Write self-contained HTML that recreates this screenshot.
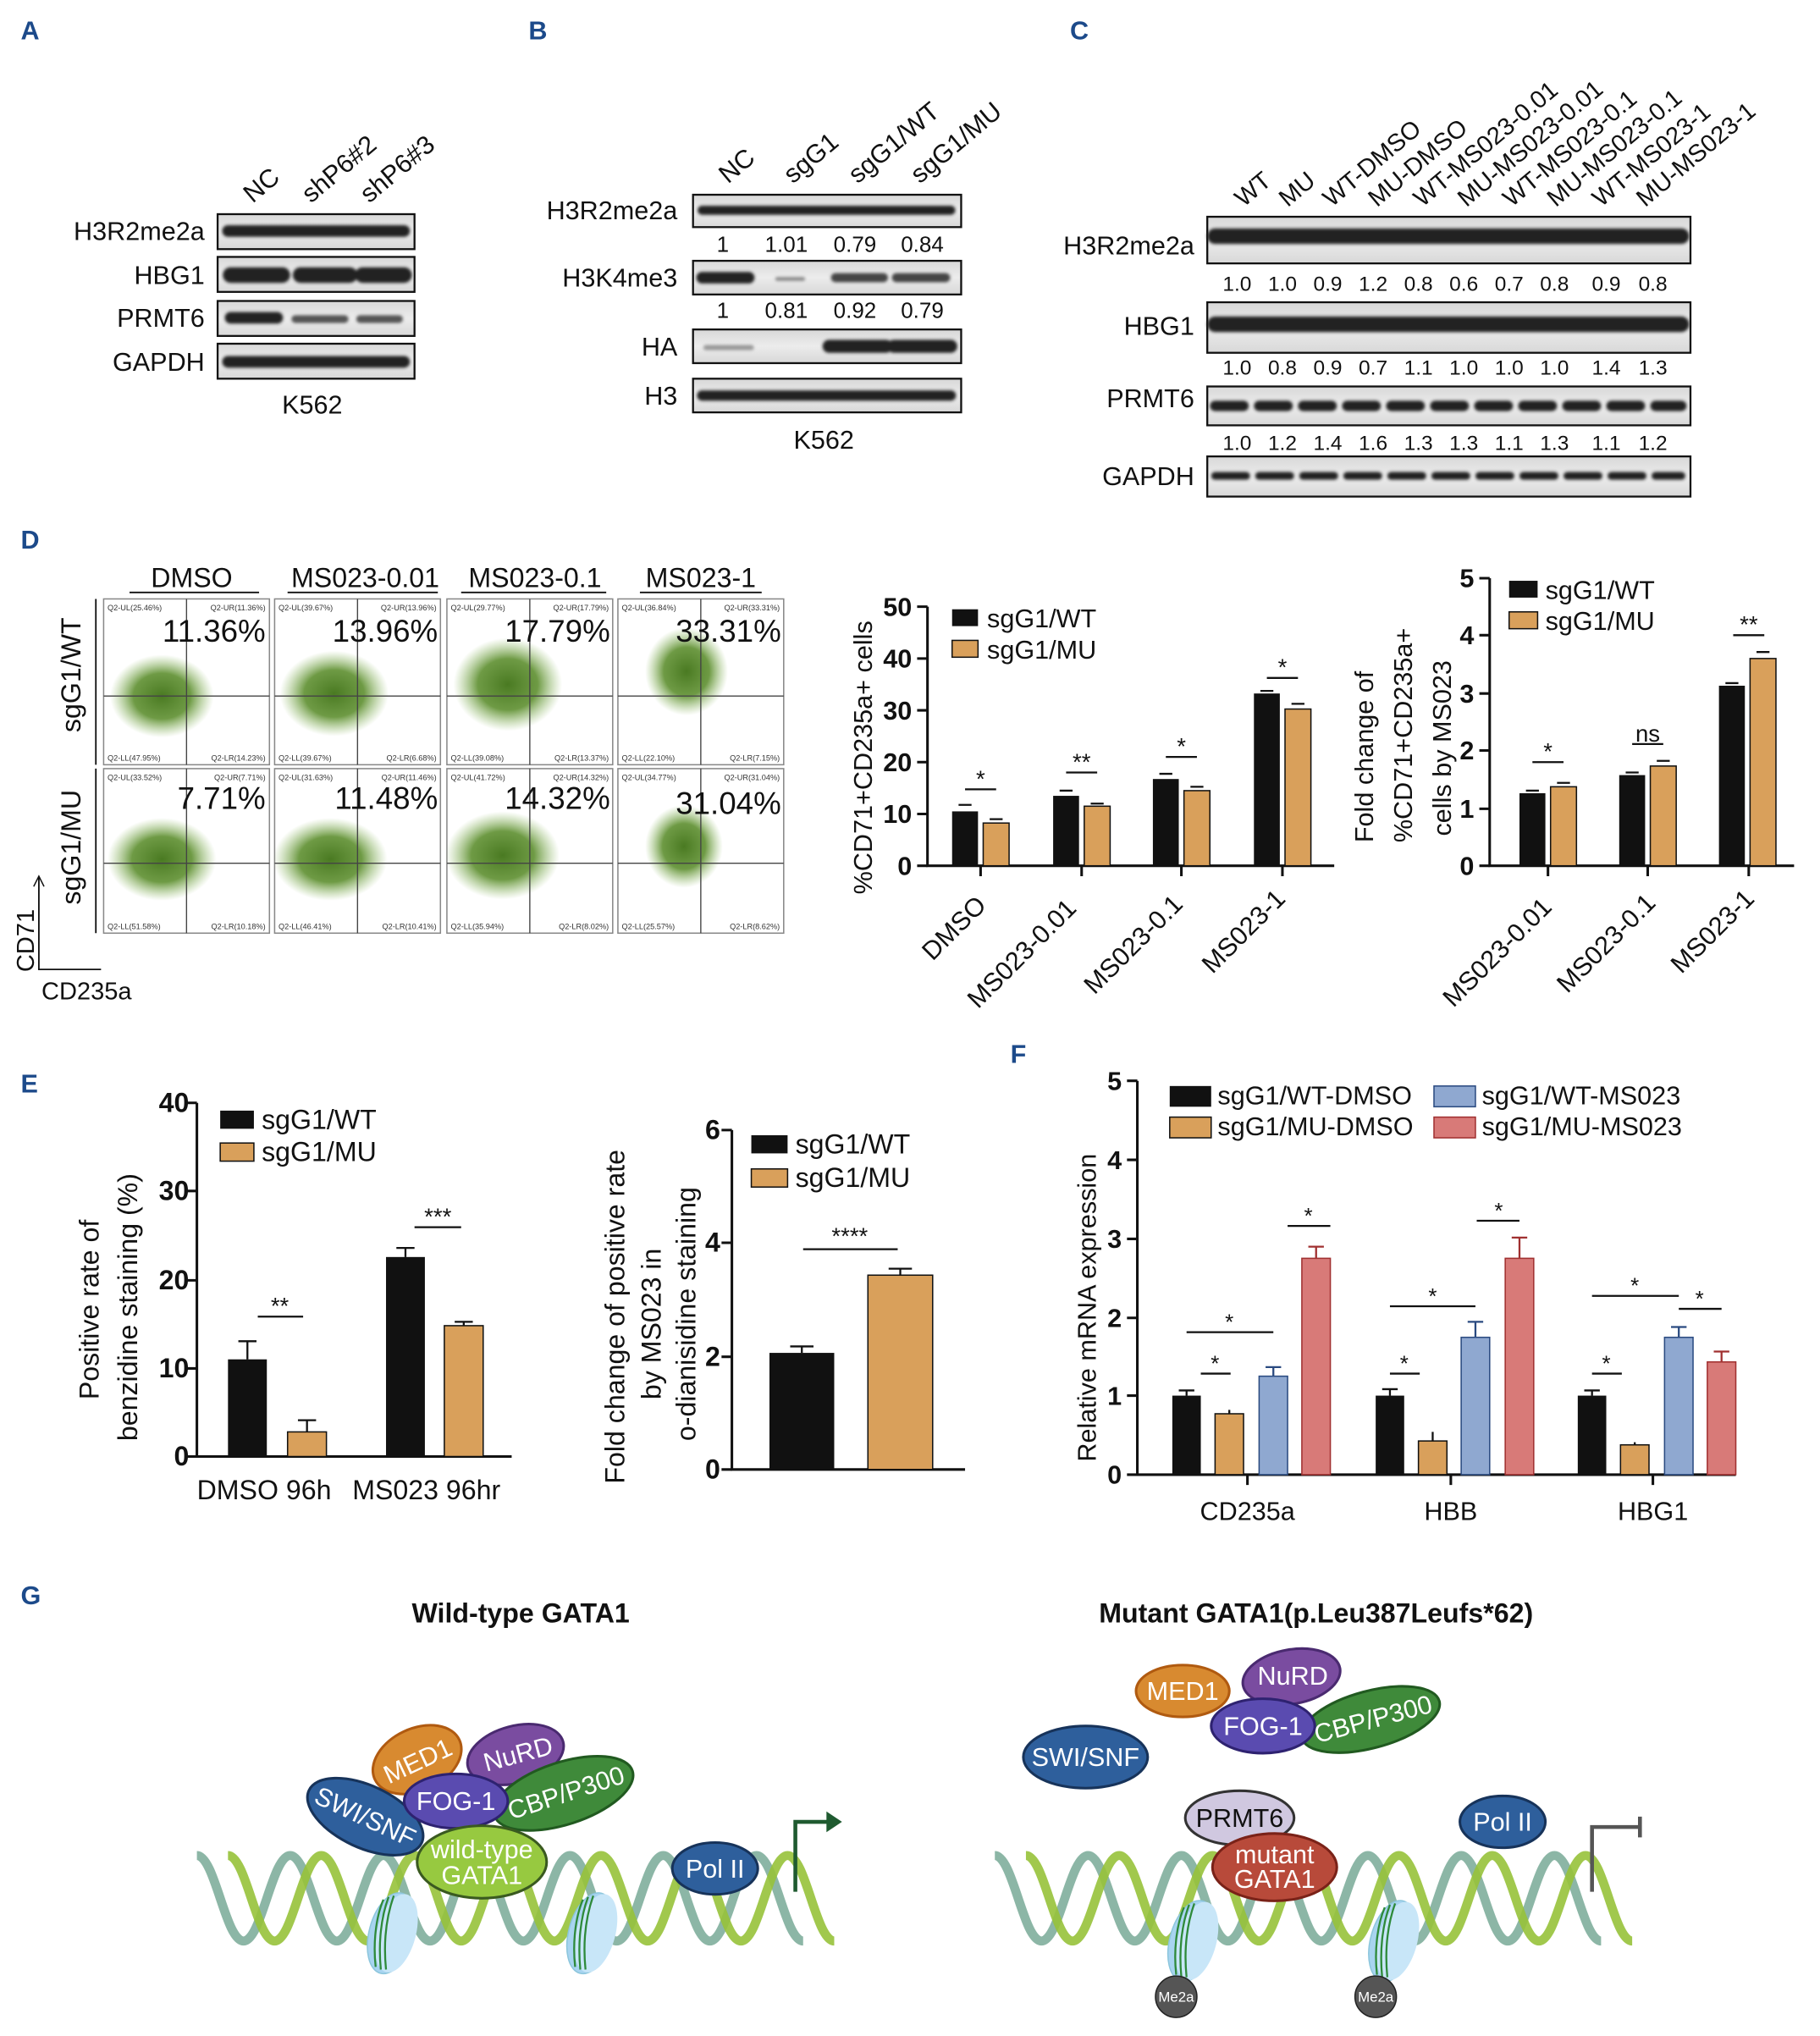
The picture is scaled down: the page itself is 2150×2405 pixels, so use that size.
<!DOCTYPE html>
<html><head><meta charset="utf-8"><style>html,body{margin:0;padding:0;background:#fff}svg{display:block}text{font-family:"Liberation Sans",sans-serif}</style></head><body>
<svg width="2150" height="2405" viewBox="0 0 1405 1571" xmlns="http://www.w3.org/2000/svg">
<defs>
<linearGradient id="blot" x1="0" y1="0" x2="0" y2="1"><stop offset="0" stop-color="#d8d8d8"/><stop offset="0.5" stop-color="#ececec"/><stop offset="1" stop-color="#d8d8d8"/></linearGradient>
<radialGradient id="cloud"><stop offset="0" stop-color="#4a7a22"/><stop offset="0.55" stop-color="#5e8f30" stop-opacity="0.9"/><stop offset="1" stop-color="#8cb860" stop-opacity="0"/></radialGradient>
<filter id="bl" x="-5%" y="-50%" width="110%" height="200%"><feGaussianBlur stdDeviation="1.3"/></filter>
</defs>
<g font-weight="bold" font-size="20">
<text x="16" y="30" fill="#1c4a8a">A</text><text x="408" y="30" fill="#1c4a8a">B</text><text x="826" y="30" fill="#1c4a8a">C</text>
<text x="16" y="423" fill="#1c4a8a">D</text><text x="16" y="843" fill="#1c4a8a">E</text><text x="780" y="820" fill="#1c4a8a">F</text><text x="16" y="1238" fill="#1c4a8a">G</text>
</g>
<!-- Panel A -->
<g font-size="20" fill="#111">
<g stroke="#111" stroke-width="1.5" fill="url(#blot)">
<rect x="168" y="165" width="152" height="27"/><rect x="168" y="198" width="152" height="27"/><rect x="168" y="232" width="152" height="27"/><rect x="168" y="265" width="152" height="27"/></g>
<g stroke="#222" stroke-linecap="round" filter="url(#bl)">
<path d="M176 178 H312" stroke-width="9"/><path d="M178 212 H218 M232 212 H270 M280 212 H312" stroke-width="12"/>
<path d="M178 245 H214" stroke-width="9"/><path d="M228 246 H266 M278 246 H308" stroke-width="6" stroke="#555"/><path d="M176 279 H312" stroke-width="9"/></g>
<g text-anchor="end"><text x="158" y="185">H3R2me2a</text><text x="158" y="219">HBG1</text><text x="158" y="252">PRMT6</text><text x="158" y="286">GAPDH</text></g>
<text x="241" y="319" text-anchor="middle">K562</text>
<text transform="translate(195,157) rotate(-40)">NC</text><text transform="translate(240,157) rotate(-40)">shP6#2</text><text transform="translate(285,157) rotate(-40)">shP6#3</text>
</g>
<!-- Panel B -->
<g font-size="20" fill="#111">
<g stroke="#111" stroke-width="1.5" fill="url(#blot)">
<rect x="535" y="150" width="207" height="25"/><rect x="535" y="201" width="207" height="26"/><rect x="535" y="254" width="207" height="26"/><rect x="535" y="292" width="207" height="26"/></g>
<g stroke="#222" stroke-linecap="round" filter="url(#bl)">
<path d="M542 162 H734" stroke-width="7"/><path d="M542 214 H578" stroke-width="9"/><path d="M600 215 H620" stroke-width="3" stroke="#888"/><path d="M645 214 H682 M692 214 H730" stroke-width="7" stroke="#444"/>
<path d="M545 268 H580" stroke-width="4" stroke="#999"/><path d="M640 267 H684 M690 267 H734" stroke-width="10"/><path d="M542 305 H734" stroke-width="8"/></g>
<g text-anchor="end"><text x="523" y="169">H3R2me2a</text><text x="523" y="221">H3K4me3</text><text x="523" y="274">HA</text><text x="523" y="312">H3</text></g>
<g font-size="17" text-anchor="middle"><text x="558" y="194">1</text><text x="607" y="194">1.01</text><text x="660" y="194">0.79</text><text x="712" y="194">0.84</text>
<text x="558" y="245">1</text><text x="607" y="245">0.81</text><text x="660" y="245">0.92</text><text x="712" y="245">0.79</text></g>
<text x="636" y="346" text-anchor="middle">K562</text>
<text transform="translate(562,142) rotate(-40)">NC</text><text transform="translate(612,142) rotate(-40)">sgG1</text><text transform="translate(662,142) rotate(-40)">sgG1/WT</text><text transform="translate(710,142) rotate(-40)">sgG1/MU</text>
</g>
<!-- Panel C -->
<g font-size="20" fill="#111">
<g stroke="#111" stroke-width="1.5" fill="url(#blot)">
<rect x="932" y="167" width="373" height="36"/><rect x="932" y="233" width="373" height="39"/><rect x="932" y="298" width="373" height="30"/><rect x="932" y="352" width="373" height="31"/></g>
<g stroke="#222" stroke-linecap="round" filter="url(#bl)">
<path d="M938 182 H1298" stroke-width="12"/><path d="M938 250 H1298" stroke-width="12"/><path d="M938 313 H1298" stroke-width="8" stroke-dasharray="22 12"/><path d="M938 367 H1298" stroke-width="6" stroke-dasharray="24 10"/></g>
<g text-anchor="end"><text x="922" y="196">H3R2me2a</text><text x="922" y="258">HBG1</text><text x="922" y="314">PRMT6</text><text x="922" y="374">GAPDH</text></g>
<g font-size="16" text-anchor="middle">
<text y="224"><tspan x="955">1.0</tspan><tspan x="990">1.0</tspan><tspan x="1025">0.9</tspan><tspan x="1060">1.2</tspan><tspan x="1095">0.8</tspan><tspan x="1130">0.6</tspan><tspan x="1165">0.7</tspan><tspan x="1200">0.8</tspan><tspan x="1240">0.9</tspan><tspan x="1276">0.8</tspan></text>
<text y="289"><tspan x="955">1.0</tspan><tspan x="990">0.8</tspan><tspan x="1025">0.9</tspan><tspan x="1060">0.7</tspan><tspan x="1095">1.1</tspan><tspan x="1130">1.0</tspan><tspan x="1165">1.0</tspan><tspan x="1200">1.0</tspan><tspan x="1240">1.4</tspan><tspan x="1276">1.3</tspan></text>
<text y="347"><tspan x="955">1.0</tspan><tspan x="990">1.2</tspan><tspan x="1025">1.4</tspan><tspan x="1060">1.6</tspan><tspan x="1095">1.3</tspan><tspan x="1130">1.3</tspan><tspan x="1165">1.1</tspan><tspan x="1200">1.3</tspan><tspan x="1240">1.1</tspan><tspan x="1276">1.2</tspan></text></g>
<g font-size="19">
<text transform="translate(960,160) rotate(-40)">WT</text><text transform="translate(994,160) rotate(-40)">MU</text><text transform="translate(1028,160) rotate(-40)">WT-DMSO</text><text transform="translate(1063,160) rotate(-40)">MU-DMSO</text><text transform="translate(1098,160) rotate(-40)">WT-MS023-0.01</text><text transform="translate(1132,160) rotate(-40)">MU-MS023-0.01</text><text transform="translate(1167,160) rotate(-40)">WT-MS023-0.1</text><text transform="translate(1201,160) rotate(-40)">MU-MS023-0.1</text><text transform="translate(1236,160) rotate(-40)">WT-MS023-1</text><text transform="translate(1270,160) rotate(-40)">MU-MS023-1</text></g>
</g>
<!-- Panel D flow -->
<g font-size="21" fill="#111">
<g text-anchor="middle"><text x="148" y="453">DMSO</text><text x="282" y="453">MS023-0.01</text><text x="413" y="453">MS023-0.1</text><text x="541" y="453">MS023-1</text></g>
<path d="M100 457 H200 M222 457 H338 M356 457 H468 M494 457 H588" stroke="#111" stroke-width="1.2"/>
<text transform="translate(62,565) rotate(-90)">sgG1/WT</text><text transform="translate(62,698) rotate(-90)">sgG1/MU</text>
<path d="M74 462 V590 M74 593 V720" stroke="#111" stroke-width="1.2"/>
<g stroke="#888" stroke-width="1" fill="#fff">
<rect x="80" y="462" width="128" height="128"/><rect x="212" y="462" width="128" height="128"/><rect x="345" y="462" width="128" height="128"/><rect x="477" y="462" width="128" height="128"/>
<rect x="80" y="593" width="128" height="127"/><rect x="212" y="593" width="128" height="127"/><rect x="345" y="593" width="128" height="127"/><rect x="477" y="593" width="128" height="127"/></g>
<g fill="url(#cloud)">
<ellipse cx="125" cy="537" rx="40" ry="32"/><ellipse cx="258" cy="535" rx="42" ry="33"/><ellipse cx="392" cy="528" rx="42" ry="36"/><ellipse cx="530" cy="518" rx="32" ry="34"/>
<ellipse cx="125" cy="663" rx="42" ry="32"/><ellipse cx="255" cy="663" rx="44" ry="32"/><ellipse cx="388" cy="660" rx="44" ry="34"/><ellipse cx="528" cy="653" rx="30" ry="32"/></g>
<g stroke="#444" stroke-width="0.9">
<path d="M80 537 H208 M144 462 V590 M212 537 H340 M276 462 V590 M345 537 H473 M409 462 V590 M477 537 H605 M541 462 V590"/>
<path d="M80 666 H208 M144 593 V720 M212 666 H340 M276 593 V720 M345 666 H473 M409 593 V720 M477 666 H605 M541 593 V720"/></g>
<g font-size="6" fill="#333">
<text x="83" y="471">Q2-UL(25.46%)</text><text x="205" y="471" text-anchor="end">Q2-UR(11.36%)</text><text x="83" y="587">Q2-LL(47.95%)</text><text x="205" y="587" text-anchor="end">Q2-LR(14.23%)</text>
<text x="215" y="471">Q2-UL(39.67%)</text><text x="337" y="471" text-anchor="end">Q2-UR(13.96%)</text><text x="215" y="587">Q2-LL(39.67%)</text><text x="337" y="587" text-anchor="end">Q2-LR(6.68%)</text>
<text x="348" y="471">Q2-UL(29.77%)</text><text x="470" y="471" text-anchor="end">Q2-UR(17.79%)</text><text x="348" y="587">Q2-LL(39.08%)</text><text x="470" y="587" text-anchor="end">Q2-LR(13.37%)</text>
<text x="480" y="471">Q2-UL(36.84%)</text><text x="602" y="471" text-anchor="end">Q2-UR(33.31%)</text><text x="480" y="587">Q2-LL(22.10%)</text><text x="602" y="587" text-anchor="end">Q2-LR(7.15%)</text>
<text x="83" y="602">Q2-UL(33.52%)</text><text x="205" y="602" text-anchor="end">Q2-UR(7.71%)</text><text x="83" y="717">Q2-LL(51.58%)</text><text x="205" y="717" text-anchor="end">Q2-LR(10.18%)</text>
<text x="215" y="602">Q2-UL(31.63%)</text><text x="337" y="602" text-anchor="end">Q2-UR(11.46%)</text><text x="215" y="717">Q2-LL(46.41%)</text><text x="337" y="717" text-anchor="end">Q2-LR(10.41%)</text>
<text x="348" y="602">Q2-UL(41.72%)</text><text x="470" y="602" text-anchor="end">Q2-UR(14.32%)</text><text x="348" y="717">Q2-LL(35.94%)</text><text x="470" y="717" text-anchor="end">Q2-LR(8.02%)</text>
<text x="480" y="602">Q2-UL(34.77%)</text><text x="602" y="602" text-anchor="end">Q2-UR(31.04%)</text><text x="480" y="717">Q2-LL(25.57%)</text><text x="602" y="717" text-anchor="end">Q2-LR(8.62%)</text>
</g>
<g font-size="24" text-anchor="end"><text x="205" y="495">11.36%</text><text x="338" y="495">13.96%</text><text x="471" y="495">17.79%</text><text x="603" y="495">33.31%</text>
<text x="205" y="624">7.71%</text><text x="338" y="624">11.48%</text><text x="471" y="624">14.32%</text><text x="603" y="628">31.04%</text></g>
<path d="M30 677 V748 H78" stroke="#111" stroke-width="1.2" fill="none"/><path d="M26 684 L30 676 L34 684" fill="none" stroke="#111"/>
<text transform="translate(26,750) rotate(-90)" font-size="19">CD71</text><text x="32" y="771" font-size="19">CD235a</text>
</g>
<!-- D bar chart 1 -->
<g font-size="20" fill="#111">
<g stroke="#111" stroke-width="2" fill="none"><path d="M716 468 V668 H1030"/><path d="M708 468 H716 M708 508 H716 M708 548 H716 M708 588 H716 M708 628 H716 M708 668 H716"/><path d="M757 668 v8 M835 668 v8 M912 668 v8 M990 668 v8"/></g>
<g text-anchor="end" font-weight="bold"><text x="704" y="475">50</text><text x="704" y="515">40</text><text x="704" y="555">30</text><text x="704" y="595">20</text><text x="704" y="635">10</text><text x="704" y="675">0</text></g>
<text transform="translate(673,690) rotate(-90)">%CD71+CD235a+ cells</text>
<rect x="735" y="470" width="20" height="13" fill="#111"/><text x="762" y="484">sgG1/WT</text>
<rect x="735" y="494" width="20" height="13" fill="#d9a05b" stroke="#111"/><text x="762" y="508">sgG1/MU</text>
<g fill="#111"><rect x="735" y="626" width="20" height="42"/><rect x="813" y="614" width="20" height="54"/><rect x="890" y="601" width="20" height="67"/><rect x="968" y="535" width="20" height="133"/></g>
<g fill="#d9a05b" stroke="#111"><rect x="759" y="635" width="20" height="33"/><rect x="837" y="622" width="20" height="46"/><rect x="914" y="610" width="20" height="58"/><rect x="992" y="547" width="20" height="121"/></g>
<g stroke="#111" stroke-width="1.5"><path d="M740 621 H750 M818 610 H828 M895 597 H905 M973 533 H983 M764 632 H774 M842 620 H852 M919 607 H929 M997 543 H1007"/>
<path d="M745 609 H769 M823 596 H847 M900 584 H924 M978 523 H1002"/></g>
<g text-anchor="middle" font-size="18"><text x="757" y="607">*</text><text x="835" y="594">**</text><text x="912" y="582">*</text><text x="990" y="521">*</text></g>
<g font-size="20"><text transform="translate(720,742) rotate(-45)">DMSO</text><text transform="translate(755,779) rotate(-45)">MS023-0.01</text><text transform="translate(845,768) rotate(-45)">MS023-0.1</text><text transform="translate(936,752) rotate(-45)">MS023-1</text></g>
</g>
<!-- D bar chart 2 -->
<g font-size="20" fill="#111">
<g stroke="#111" stroke-width="2" fill="none"><path d="M1150 446 V668 H1385"/><path d="M1142 446 H1150 M1142 490 H1150 M1142 535 H1150 M1142 579 H1150 M1142 624 H1150 M1142 668 H1150"/><path d="M1195 668 v8 M1272 668 v8 M1350 668 v8"/></g>
<g text-anchor="end" font-weight="bold"><text x="1138" y="453">5</text><text x="1138" y="497">4</text><text x="1138" y="542">3</text><text x="1138" y="586">2</text><text x="1138" y="631">1</text><text x="1138" y="675">0</text></g>
<text transform="translate(1060,650) rotate(-90)">Fold change of</text><text transform="translate(1090,650) rotate(-90)">%CD71+CD235a+</text><text transform="translate(1120,645) rotate(-90)">cells by MS023</text>
<rect x="1165" y="448" width="22" height="13" fill="#111"/><text x="1193" y="462">sgG1/WT</text>
<rect x="1165" y="472" width="22" height="13" fill="#d9a05b" stroke="#111"/><text x="1193" y="486">sgG1/MU</text>
<g fill="#111"><rect x="1173" y="612" width="20" height="56"/><rect x="1250" y="598" width="20" height="70"/><rect x="1327" y="529" width="20" height="139"/></g>
<g fill="#d9a05b" stroke="#111"><rect x="1197" y="607" width="20" height="61"/><rect x="1274" y="591" width="20" height="77"/><rect x="1351" y="508" width="20" height="160"/></g>
<g stroke="#111" stroke-width="1.5"><path d="M1178 610 H1188 M1255 596 H1265 M1332 527 H1342 M1202 604 H1212 M1279 587 H1289 M1356 503 H1366 M1183 588 H1207 M1260 574 H1284 M1338 490 H1362"/></g>
<g text-anchor="middle" font-size="18"><text x="1195" y="586">*</text><text x="1272" y="572">ns</text><text x="1350" y="488">**</text></g>
<g font-size="20"><text transform="translate(1122,778) rotate(-45)">MS023-0.01</text><text transform="translate(1210,767) rotate(-45)">MS023-0.1</text><text transform="translate(1298,752) rotate(-45)">MS023-1</text></g>
</g>
<!-- E1 -->
<g font-size="21" fill="#111">
<g stroke="#111" stroke-width="2" fill="none"><path d="M152 851 V1124 H395"/><path d="M144 851 H152 M144 919 H152 M144 988 H152 M144 1056 H152 M144 1124 H152"/></g>
<g text-anchor="end" font-weight="bold"><text x="146" y="858">40</text><text x="146" y="926">30</text><text x="146" y="995">20</text><text x="146" y="1063">10</text><text x="146" y="1131">0</text></g>
<text transform="translate(76,1080) rotate(-90)">Positive rate of</text><text transform="translate(106,1112) rotate(-90)">benzidine staining (%)</text>
<rect x="170" y="857" width="26" height="14" fill="#111"/><text x="202" y="871">sgG1/WT</text>
<rect x="170" y="882" width="26" height="14" fill="#d9a05b" stroke="#111"/><text x="202" y="896">sgG1/MU</text>
<rect x="176" y="1049" width="30" height="75" fill="#111"/><rect x="222" y="1105" width="30" height="19" fill="#d9a05b" stroke="#111"/>
<rect x="298" y="970" width="30" height="154" fill="#111"/><rect x="343" y="1023" width="30" height="101" fill="#d9a05b" stroke="#111"/>
<g stroke="#111" stroke-width="1.5"><path d="M191 1049 V1035 M184 1035 H198 M237 1105 V1096 M230 1096 H244 M313 970 V963 M306 963 H320 M358 1023 V1020 M351 1020 H365 M199 1016 H234 M320 947 H356"/></g>
<g text-anchor="middle" font-size="18"><text x="216" y="1014">**</text><text x="338" y="945">***</text></g>
<text x="152" y="1157">DMSO 96h</text><text x="272" y="1157">MS023 96hr</text>
</g>
<!-- E2 -->
<g font-size="21" fill="#111">
<g stroke="#111" stroke-width="2" fill="none"><path d="M565 872 V1134 H745"/><path d="M557 872 H565 M557 959 H565 M557 1047 H565 M557 1134 H565"/></g>
<g text-anchor="end" font-weight="bold"><text x="556" y="879">6</text><text x="556" y="966">4</text><text x="556" y="1054">2</text><text x="556" y="1141">0</text></g>
<text transform="translate(482,1145) rotate(-90)">Fold change of positive rate</text><text transform="translate(510,1080) rotate(-90)">by MS023  in</text><text transform="translate(537,1112) rotate(-90)">o-dianisidine staining</text>
<rect x="580" y="876" width="28" height="14" fill="#111"/><text x="614" y="890">sgG1/WT</text>
<rect x="580" y="902" width="28" height="14" fill="#d9a05b" stroke="#111"/><text x="614" y="916">sgG1/MU</text>
<rect x="594" y="1044" width="50" height="90" fill="#111"/><rect x="670" y="984" width="50" height="150" fill="#d9a05b" stroke="#111"/>
<g stroke="#111" stroke-width="1.5"><path d="M619 1044 V1039 M610 1039 H628 M695 984 V979 M686 979 H704 M620 964 H693"/></g>
<text x="656" y="960" text-anchor="middle" font-size="18">****</text>
</g>
<!-- F -->
<g font-size="20" fill="#111">
<g stroke="#111" stroke-width="2" fill="none"><path d="M878 834 V1138 H1340"/><path d="M870 834 H878 M870 895 H878 M870 956 H878 M870 1017 H878 M870 1077 H878 M870 1138 H878"/><path d="M963 1138 v8 M1120 1138 v8 M1276 1138 v8"/></g>
<g text-anchor="end" font-weight="bold"><text x="866" y="841">5</text><text x="866" y="902">4</text><text x="866" y="963">3</text><text x="866" y="1024">2</text><text x="866" y="1084">1</text><text x="866" y="1145">0</text></g>
<text transform="translate(846,1128) rotate(-90)">Relative mRNA expression</text>
<rect x="903" y="838" width="32" height="16" fill="#111"/><text x="940" y="852">sgG1/WT-DMSO</text>
<rect x="903" y="862" width="32" height="16" fill="#d9a05b" stroke="#111"/><text x="940" y="876">sgG1/MU-DMSO</text>
<rect x="1107" y="838" width="32" height="16" fill="#8fa8d0" stroke="#2a4a80"/><text x="1144" y="852">sgG1/WT-MS023</text>
<rect x="1107" y="862" width="32" height="16" fill="#d87a78" stroke="#a03030"/><text x="1144" y="876">sgG1/MU-MS023</text>
<g fill="#111"><rect x="905" y="1077" width="22" height="61"/><rect x="1062" y="1077" width="22" height="61"/><rect x="1218" y="1077" width="22" height="61"/></g>
<g fill="#d9a05b" stroke="#111"><rect x="938" y="1091" width="22" height="47"/><rect x="1095" y="1112" width="22" height="26"/><rect x="1251" y="1115" width="22" height="23"/></g>
<g fill="#8fa8d0" stroke="#2a4a80"><rect x="972" y="1062" width="22" height="76"/><rect x="1128" y="1032" width="22" height="106"/><rect x="1285" y="1032" width="22" height="106"/></g>
<g fill="#d87a78" stroke="#a03030"><rect x="1005" y="971" width="22" height="167"/><rect x="1162" y="971" width="22" height="167"/><rect x="1318" y="1051" width="22" height="87"/></g>
<g stroke="#111" stroke-width="1.5"><path d="M916 1077 V1073 M910 1073 H922 M1073 1077 V1072 M1067 1072 H1079 M1229 1077 V1073 M1223 1073 H1235 M949 1091 V1088 M1106 1112 V1105 M1262 1115 V1113"/>
<path d="M927 1060 H950 M916 1028 H983 M994 946 H1027 M1073 1060 H1096 M1073 1008 H1139 M1140 942 H1173 M1229 1060 H1252 M1229 1000 H1296 M1296 1010 H1329"/></g>
<g stroke="#2a4a80" stroke-width="1.5"><path d="M983 1062 V1055 M977 1055 H989 M1139 1032 V1020 M1133 1020 H1145 M1296 1032 V1024 M1290 1024 H1302"/></g>
<g stroke="#a03030" stroke-width="1.5"><path d="M1016 971 V962 M1010 962 H1022 M1173 971 V955 M1167 955 H1179 M1329 1051 V1043 M1323 1043 H1335"/></g>
<g text-anchor="middle" font-size="17"><text x="938" y="1058">*</text><text x="949" y="1026">*</text><text x="1010" y="944">*</text><text x="1084" y="1058">*</text><text x="1106" y="1006">*</text><text x="1157" y="940">*</text><text x="1240" y="1058">*</text><text x="1262" y="998">*</text><text x="1312" y="1008">*</text></g>
<g text-anchor="middle"><text x="963" y="1173">CD235a</text><text x="1120" y="1173">HBB</text><text x="1276" y="1173">HBG1</text></g>
</g>
<!-- G -->
<g font-size="21" font-weight="bold" fill="#111" text-anchor="middle"><text x="402" y="1252">Wild-type GATA1</text><text x="1016" y="1252">Mutant GATA1(p.Leu387Leufs*62)</text></g>
<g fill="none" stroke-width="7" stroke-opacity="0.9">
<path d="M152 1432 c14 0 22 66 36 66 s22 -66 36 -66 s22 66 36 66 s22 -66 36 -66 s22 66 36 66 s22 -66 36 -66 s22 66 36 66 s22 -66 36 -66 s22 66 36 66 s22 -66 36 -66 s22 66 36 66 s22 -66 36 -66 s22 66 36 66" stroke="#7fae9c"/>
<path d="M176 1432 c14 0 22 66 36 66 s22 -66 36 -66 s22 66 36 66 s22 -66 36 -66 s22 66 36 66 s22 -66 36 -66 s22 66 36 66 s22 -66 36 -66 s22 66 36 66 s22 -66 36 -66 s22 66 36 66 s22 -66 36 -66 s22 66 36 66" stroke="#97c23a"/>
<path d="M768 1432 c14 0 22 66 36 66 s22 -66 36 -66 s22 66 36 66 s22 -66 36 -66 s22 66 36 66 s22 -66 36 -66 s22 66 36 66 s22 -66 36 -66 s22 66 36 66 s22 -66 36 -66 s22 66 36 66 s22 -66 36 -66 s22 66 36 66" stroke="#7fae9c"/>
<path d="M792 1432 c14 0 22 66 36 66 s22 -66 36 -66 s22 66 36 66 s22 -66 36 -66 s22 66 36 66 s22 -66 36 -66 s22 66 36 66 s22 -66 36 -66 s22 66 36 66 s22 -66 36 -66 s22 66 36 66 s22 -66 36 -66 s22 66 36 66" stroke="#97c23a"/>
</g>
<g id="nuc">
<ellipse cx="302" cy="1492" rx="17" ry="32" transform="rotate(15 302 1492)" fill="#a8d4f0" stroke="#8cc6dc"/>
<ellipse cx="306" cy="1492" rx="15" ry="31" transform="rotate(15 306 1492)" fill="#c8e6f8"/>
<path d="M296 1466 C290 1480 288 1500 290 1518 M300 1464 C294 1480 292 1500 294 1520 M304 1463 C298 1480 296 1500 298 1520" stroke="#2e8a3a" stroke-width="1.5" fill="none"/>
</g>
<use href="#nuc" x="154"/><use href="#nuc" x="618" y="6"/><use href="#nuc" x="773" y="6"/>
<g fill="#555" stroke="#222"><circle cx="908" cy="1541" r="16"/><circle cx="1062" cy="1541" r="16"/></g>
<g font-size="11" fill="#fff" text-anchor="middle"><text x="908" y="1545">Me2a</text><text x="1062" y="1545">Me2a</text></g>
<path d="M614 1460 V1406 H640" stroke="#1f5a30" stroke-width="3" fill="none"/><path d="M638 1398 L650 1406 L638 1414 Z" fill="#1f5a30"/>
<path d="M1229 1460 V1410 H1266 M1266 1402 V1418" stroke="#555" stroke-width="3" fill="none"/>
<g font-size="20" fill="#fff" text-anchor="middle" stroke-width="2">
<ellipse cx="322" cy="1358" rx="36" ry="24" fill="#d88a30" stroke="#b05a10" transform="rotate(-25 322 1358)"/><text x="322" y="1366" transform="rotate(-25 322 1358)">MED1</text>
<ellipse cx="398" cy="1354" rx="38" ry="22" fill="#7a4ca0" stroke="#4a2a70" transform="rotate(-15 398 1354)"/><text x="400" y="1361" transform="rotate(-15 398 1354)">NuRD</text>
<ellipse cx="435" cy="1384" rx="56" ry="24" fill="#3f8a3a" stroke="#215a20" transform="rotate(-18 435 1384)"/><text x="437" y="1391" transform="rotate(-18 435 1384)">CBP/P300</text>
<ellipse cx="282" cy="1402" rx="48" ry="24" fill="#2e5f9c" stroke="#17335a" transform="rotate(25 282 1402)"/><text x="282" y="1409" transform="rotate(25 282 1402)">SWI/SNF</text>
<ellipse cx="352" cy="1390" rx="40" ry="21" fill="#5a4bb0" stroke="#2e2270"/><text x="352" y="1397">FOG-1</text>
<ellipse cx="372" cy="1437" rx="50" ry="28" fill="#97c940" stroke="#3a5a20"/><text x="372" y="1434">wild-type</text><text x="372" y="1454">GATA1</text>
<ellipse cx="552" cy="1442" rx="33" ry="20" fill="#2e5f9c" stroke="#17335a"/><text x="552" y="1449">Pol II</text>
<ellipse cx="913" cy="1305" rx="36" ry="20" fill="#d88a30" stroke="#b05a10"/><text x="913" y="1312">MED1</text>
<ellipse cx="997" cy="1294" rx="38" ry="21" fill="#7a4ca0" stroke="#4a2a70" transform="rotate(-10 997 1294)"/><text x="998" y="1300">NuRD</text>
<ellipse cx="1058" cy="1327" rx="55" ry="22" fill="#3f8a3a" stroke="#215a20" transform="rotate(-15 1058 1327)"/><text x="1060" y="1334" transform="rotate(-15 1058 1327)">CBP/P300</text>
<ellipse cx="975" cy="1332" rx="40" ry="21" fill="#5a4bb0" stroke="#2e2270"/><text x="975" y="1339">FOG-1</text>
<ellipse cx="838" cy="1356" rx="48" ry="24" fill="#2e5f9c" stroke="#17335a"/><text x="838" y="1363">SWI/SNF</text>
<ellipse cx="957" cy="1403" rx="42" ry="21" fill="#d0c8e0" stroke="#333"/><text x="957" y="1410" fill="#111">PRMT6</text>
<ellipse cx="984" cy="1441" rx="48" ry="26" fill="#b84a3a" stroke="#7a2218"/><text x="984" y="1438">mutant</text><text x="984" y="1457">GATA1</text>
<ellipse cx="1160" cy="1406" rx="33" ry="20" fill="#2e5f9c" stroke="#17335a"/><text x="1160" y="1413">Pol II</text>
</g>
</svg>
</body></html>
